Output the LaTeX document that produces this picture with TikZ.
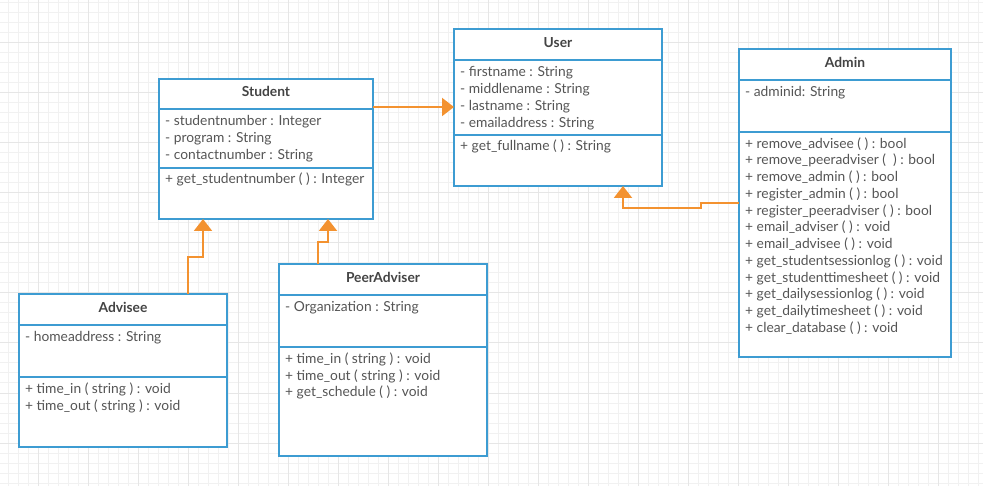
\documentclass[tikz,border=0pt]{standalone}
\usepackage{fontspec}
\setmainfont{Lato}
\usetikzlibrary{arrows.meta,calc}

\definecolor{umlblue}{HTML}{3D9CD2}
\definecolor{umlorange}{HTML}{F39230}
\definecolor{umltext}{HTML}{555555}
\definecolor{umltitle}{HTML}{444444}
\definecolor{gridminor}{HTML}{F1F1F1}
\definecolor{gridmajor}{HTML}{E6E6E6}

\tikzset{
  part/.style={draw=umlblue, line width=2pt, fill=white, anchor=north west, inner sep=0pt, outer sep=0pt,
    text=umltitle, font=\fontsize{13.8}{15}\selectfont\bfseries, text depth=4.5pt},
  row/.style={anchor=west, inner sep=0pt, text=umltext, font=\fontsize{13.8}{15}\selectfont,
    text height=9.5pt, text depth=3pt},
  inherit/.style={draw=umlorange, line width=2pt, -{Triangle[width=18pt,length=12pt]}},
}

\begin{document}
\begin{tikzpicture}[x=1pt, y=-1pt]

    \useasboundingbox[fill=white] (0,0) rectangle (983,486);

    % background grid
    \foreach \x in {8,18,...,978} \draw[gridminor, line width=1pt] (\x,0) -- (\x,486);
    \foreach \y in {3,13,...,483} \draw[gridminor, line width=1pt] (0,\y) -- (983,\y);
    \foreach \x in {38,88,...,938} \draw[gridmajor, line width=1pt] (\x,0) -- (\x,486);
    \foreach \y in {43,93,...,443} \draw[gridmajor, line width=1pt] (0,\y) -- (983,\y);

    % User
    \node[part, minimum width=208pt, minimum height=31pt] (user) at (454,29) {User};
    \node[part, minimum width=208pt, minimum height=75pt] (user attr) at (user.south west) {};
    \node[part, minimum width=208pt, minimum height=51pt] (user ops) at (user attr.south west) {};

    % Student
    \node[part, minimum width=214pt, minimum height=30pt] (student) at (159,79) {Student};
    \node[part, minimum width=214pt, minimum height=59pt] (student attr) at (student.south west) {};
    \node[part, minimum width=214pt, minimum height=51pt] (student ops) at (student attr.south west) {};

    % Admin
    \node[part, minimum width=212pt, minimum height=31pt] (admin) at (739,49) {Admin};
    \node[part, minimum width=212pt, minimum height=52pt] (admin attr) at (admin.south west) {};
    \node[part, minimum width=212pt, minimum height=225pt] (admin ops) at (admin attr.south west) {};

    % Advisee
    \node[part, minimum width=208pt, minimum height=31pt] (advisee) at (19,294) {Advisee};
    \node[part, minimum width=208pt, minimum height=52pt] (advisee attr) at (advisee.south west) {};
    \node[part, minimum width=208pt, minimum height=70pt] (advisee ops) at (advisee attr.south west) {};

    % PeerAdviser
    \node[part, minimum width=208pt, minimum height=31pt] (peer) at (279,264) {PeerAdviser};
    \node[part, minimum width=208pt, minimum height=52pt] (peer attr) at (peer.south west) {};
    \node[part, minimum width=208pt, minimum height=109pt] (peer ops) at (peer attr.south west) {};

    % attributes and operations
    \foreach \t [count=\i] in {- firstname : String, - middlename : String, - lastname : String, - emailaddress : String}
        \node[row] at ($(user attr.north west)+(6,13.5+16.8*\i-16.8)$) {\t};
    \node[row] at ($(user ops.north west)+(6,12.5)$) {+ get\_fullname ( ) : String};

    \foreach \t [count=\i] in {- studentnumber : Integer, - program : String, - contactnumber : String}
        \node[row] at ($(student attr.north west)+(6,13.5+17*\i-17)$) {\t};
    \node[row] at ($(student ops.north west)+(6,12.5)$) {+ get\_studentnumber ( ) : Integer};

    \node[row] at ($(admin attr.north west)+(6,13.5)$) {- adminid: String};
    \foreach \t [count=\i] in {+ remove\_advisee ( ) : bool, + remove\_peeradviser (\ \ ) : bool,
        + remove\_admin ( ) : bool, + register\_admin ( ) : bool, + register\_peeradviser ( ) : bool,
        + email\_adviser ( ) : void, + email\_advisee ( ) : void, + get\_studentsessionlog ( ) : void,
        + get\_studenttimesheet ( ) : void, + get\_dailysessionlog ( ) : void,
        + get\_dailytimesheet ( ) : void, + clear\_database ( ) : void}
        \node[row] at ($(admin ops.north west)+(6,13+16.75*\i-16.75)$) {\t};

    \node[row] at ($(advisee attr.north west)+(6,13.5)$) {- homeaddress : String};
    \foreach \t [count=\i] in {+ time\_in ( string ) : void, + time\_out ( string ) : void}
        \node[row] at ($(advisee ops.north west)+(6,13+16.8*\i-16.8)$) {\t};

    \node[row] at ($(peer attr.north west)+(6,13.5)$) {- Organization : String};
    \foreach \t [count=\i] in {+ time\_in ( string ) : void, + time\_out ( string ) : void, + get\_schedule ( ) : void}
        \node[row] at ($(peer ops.north west)+(6,13+16.8*\i-16.8)$) {\t};

    % generalisation arrows
    \draw[inherit] ([yshift=2pt]student.south east) -- ([yshift=2pt]student.south east -| user.west);
    \draw[inherit] ([xshift=169pt]advisee.north west) -- ++(0,-37) -| ([xshift=44pt]student ops.south west);
    \draw[inherit] ([xshift=39pt]peer.north west) -- ++(0,-22) -| ([xshift=169pt]student ops.south west);
    \draw[inherit] ([yshift=-71pt]admin ops.north west) -- ++(-38,0) -- ++(0,5) -| ([xshift=169pt]user ops.south west);

\end{tikzpicture}
\end{document}
